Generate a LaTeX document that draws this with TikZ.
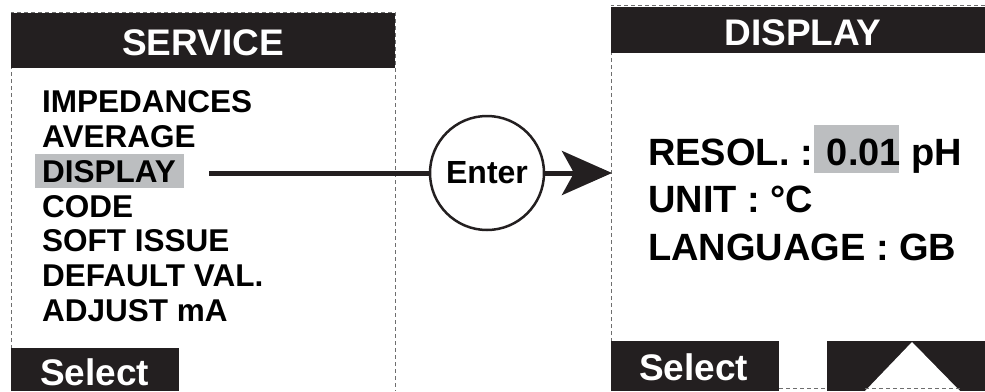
\documentclass[tikz,border=0pt]{standalone}
\usepackage{fontspec}
\setmainfont{Liberation Sans}
\usetikzlibrary{positioning, arrows.meta}
\definecolor{barblack}{HTML}{231F20}
\definecolor{selgray}{HTML}{BCBEC0}
\definecolor{dashgray}{HTML}{6E6E6E}
\tikzset{
	framedash/.style={draw=dashgray, line width=1pt, dash pattern=on 4pt off 3pt}
}

\begin{document}
\begin{tikzpicture}[x=1pt, y=-1pt]

      \tikzset{
        bartext/.style={
            text=white,
            inner sep=0pt,
            font=\bfseries\fontsize{37}{37}\selectfont
          },
        menuitem/.style={
            anchor=base west,
            inner sep=0pt,
            font=\bfseries\fontsize{31.5}{31.5}\selectfont
          },
        valueitem/.style={
            anchor=base west,
            inner sep=0pt,
            font=\bfseries\fontsize{38}{38}\selectfont
          },
        keycircle/.style={
            shape=circle,
            draw=barblack,
            line width=2.5pt,
            fill=white,
            minimum size=114pt,
            inner sep=0pt,
            font=\bfseries\fontsize{32}{32}\selectfont
          }
      }

      \useasboundingbox (0,0) rectangle (985,391);

      % service screen
      \draw[framedash] (11,391) -- (11,12) -- (395,12) -- (395,391);
      \fill[barblack] (11,13) rectangle (395,68);
      \node[bartext, anchor=base] (service) at (203,55) {SERVICE};
      \fill[selgray] (35,154) rectangle (184,188);
      \foreach \txt [count=\i] in {IMPEDANCES, AVERAGE, DISPLAY, CODE, SOFT ISSUE, DEFAULT VAL., ADJUST mA}
        \node[menuitem] (i\i) at (42, {77.9+34.8*\i}) {\txt};
      \fill[barblack] (11,348) rectangle (179,391);
      \node[bartext, anchor=base west] (sel1) at (40,385) {Select};

      % display screen
      \draw[framedash] (611,391) -- (611,5) -- (985,5);
      \fill[barblack] (611,7) rectangle (985,53);
      \node[bartext, anchor=base] (display) at (803,45) {DISPLAY};
      \fill[selgray] (814,125) rectangle (899,173);
      \node[valueitem] (resol) at (648,165) {RESOL. : 0.01 pH};
      \node[valueitem] (unit) at (648,212) {UNIT : °C};
      \node[valueitem] (lang) at (648,260) {LANGUAGE : GB};
      \fill[barblack] (611,341) rectangle (779,391);
      \node[bartext, anchor=base west] (sel2) at (639,380) {Select};
      \draw[framedash] (779,388) -- (827,388);
      \fill[barblack] (827,341) rectangle (985,391);
      \fill[white] (912,342) -- (960,391) -- (865,391) -- cycle;
      \draw[framedash] (865,388) -- (960,388);

      % enter key
      \node[keycircle] (enter) at (487,173) {Enter};
      \coordinate (start) at (209,173);
      \coordinate (target) at (612,173);

      \draw[line width=5pt, barblack] (start) -- (enter);
      \draw[line width=5pt, barblack, -{Stealth[length=50pt, width=44pt, inset=12pt]}] (enter) -- (target);
    \end{tikzpicture}
\end{document}
